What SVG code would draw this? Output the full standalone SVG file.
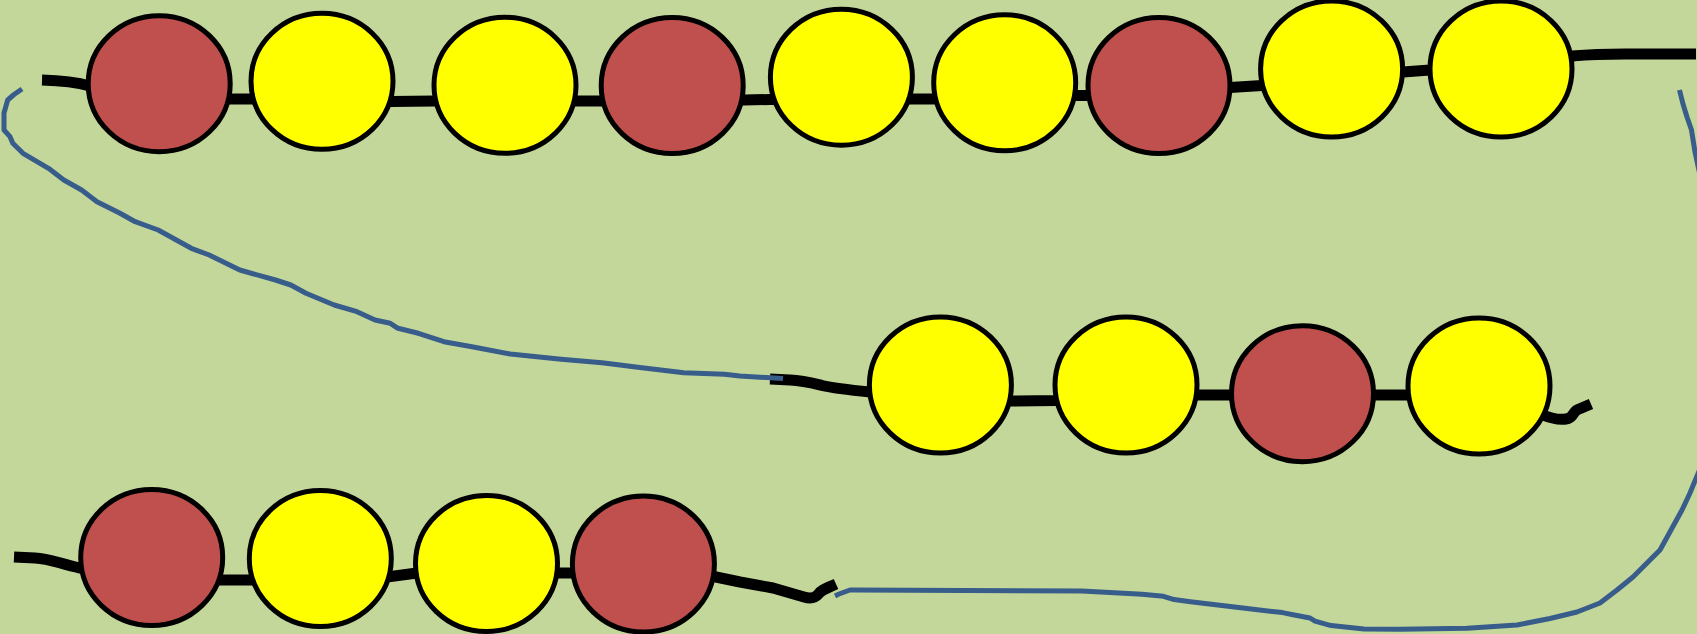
<svg xmlns="http://www.w3.org/2000/svg" width="1697" height="634" viewBox="0 0 1697 634">
<style>
.bg{fill:#C4D79B}
.str{fill:none;stroke:#000;stroke-width:11;stroke-linejoin:round}
.blue{fill:none;stroke:#385D8A;stroke-width:5;stroke-linejoin:round;stroke-linecap:butt}
.bead{stroke:#000;stroke-width:5}
.red{fill:#C0504D}
.yel{fill:#FFFF00}
</style>
<rect class="bg" x="0" y="0" width="1697" height="634"/>
<g id="connectors">
<path class="str" d="M42,80 C62,80.5 76,82 90,86 L230,99 L252,99 L392,101.5 L434,101 L576,101 L600,101 L744,100 L770,99.5 L913,99 L933,99 L1076,95.5 L1090,95.5 L1230,87.5 L1262,85.5 L1403,72 L1430,70 L1572,56 C1590,54.5 1605,54 1625,54 L1696,54"/>
<path class="str" d="M770,379 L790,380 C803,380.5 812,383 822,385.5 C835,388.5 850,390 870,392 L1010,401 L1056,400.5 L1197,395 L1231,395 L1373,395 L1407,395 L1540,414 C1550,418 1558,420.5 1566,419 C1574,418 1572,412 1578,409.5 L1591,404"/>
<path class="str" d="M14,557 L35,558 C50,558.5 60,564 80,568 L219,580 L252,580 L387,577 L417,573 L557,573 L573,573 L716,577 L740,582 L773,588 L804,597 C811,599 815,598 818,594.5 C821,590 826,588.5 836,584"/>
<path class="blue" d="M22,89 L14,94.5 L7.7,100 L4,113 L4,130 L10,136.7 L12.8,143.3 L23,153.3 L48.5,168.3 L63.8,180 L81.6,190 L97,201.7 L120,213.3 L135.2,221.7 L158.2,230 L191.3,248.3 L209.2,255 L239.8,270 L275.5,280 L290.8,285 L306,293.3 L334.2,305 L357,311.7 L375,320 L390.3,323.3 L398,328.3 L418.4,333.3 L443.9,341.7 L472,346.7 L510.2,354 L561.2,359.3 L602,362.7 L637.8,367.3 L683.7,372.7 L724.5,374.3 L739.8,376 L783,378.5"/>
<path class="blue" d="M1679.5,90 L1683,104 L1687,117 L1691.5,130 L1695,152 L1700,175 C1722,260 1722,420 1697,476 L1690,493 L1682,510 L1660,550 L1633,577 L1617,590 L1600,603 L1577,612 L1550,618.5 L1517,625 L1467,628.3 L1400,629.3 L1364,629 L1331,625.6 L1315,621.2 L1310,618 L1293,614.7 L1282.5,612.6 L1245,608.3 L1190.5,601.8 L1174,599.6 L1163.5,596.3 L1142,594.2 L1082,591 L855,590 L850,590 L839,594 L835,596"/>
</g>
<g id="bead-t1"><ellipse class="bead red" cx="159.2" cy="83.7" rx="71" ry="68"/></g>
<g id="bead-t2"><ellipse class="bead yel" cx="322" cy="81.3" rx="71" ry="68"/></g>
<g id="bead-t3"><ellipse class="bead yel" cx="505" cy="85.3" rx="71" ry="68"/></g>
<g id="bead-t4"><ellipse class="bead red" cx="672.2" cy="85.5" rx="71" ry="68"/></g>
<g id="bead-t5"><ellipse class="bead yel" cx="841.4" cy="77.2" rx="71" ry="68"/></g>
<g id="bead-t6"><ellipse class="bead yel" cx="1004.7" cy="82.8" rx="71" ry="68"/></g>
<g id="bead-t7"><ellipse class="bead red" cx="1159" cy="85.5" rx="71" ry="68"/></g>
<g id="bead-t8"><ellipse class="bead yel" cx="1331.6" cy="69" rx="71" ry="68"/></g>
<g id="bead-t9"><ellipse class="bead yel" cx="1501" cy="69" rx="71" ry="68"/></g>
<g id="bead-m1"><ellipse class="bead yel" cx="940.4" cy="385" rx="71" ry="68"/></g>
<g id="bead-m2"><ellipse class="bead yel" cx="1126" cy="385" rx="71" ry="68"/></g>
<g id="bead-m3"><ellipse class="bead red" cx="1302.5" cy="393.7" rx="71" ry="68"/></g>
<g id="bead-m4"><ellipse class="bead yel" cx="1479" cy="386" rx="71" ry="68"/></g>
<g id="bead-b1"><ellipse class="bead red" cx="151.7" cy="557.5" rx="71" ry="68"/></g>
<g id="bead-b2"><ellipse class="bead yel" cx="320.3" cy="558.5" rx="71" ry="68"/></g>
<g id="bead-b3"><ellipse class="bead yel" cx="486.5" cy="563.5" rx="71" ry="68"/></g>
<g id="bead-b4"><ellipse class="bead red" cx="643.4" cy="564" rx="71" ry="68"/></g>
</svg>
